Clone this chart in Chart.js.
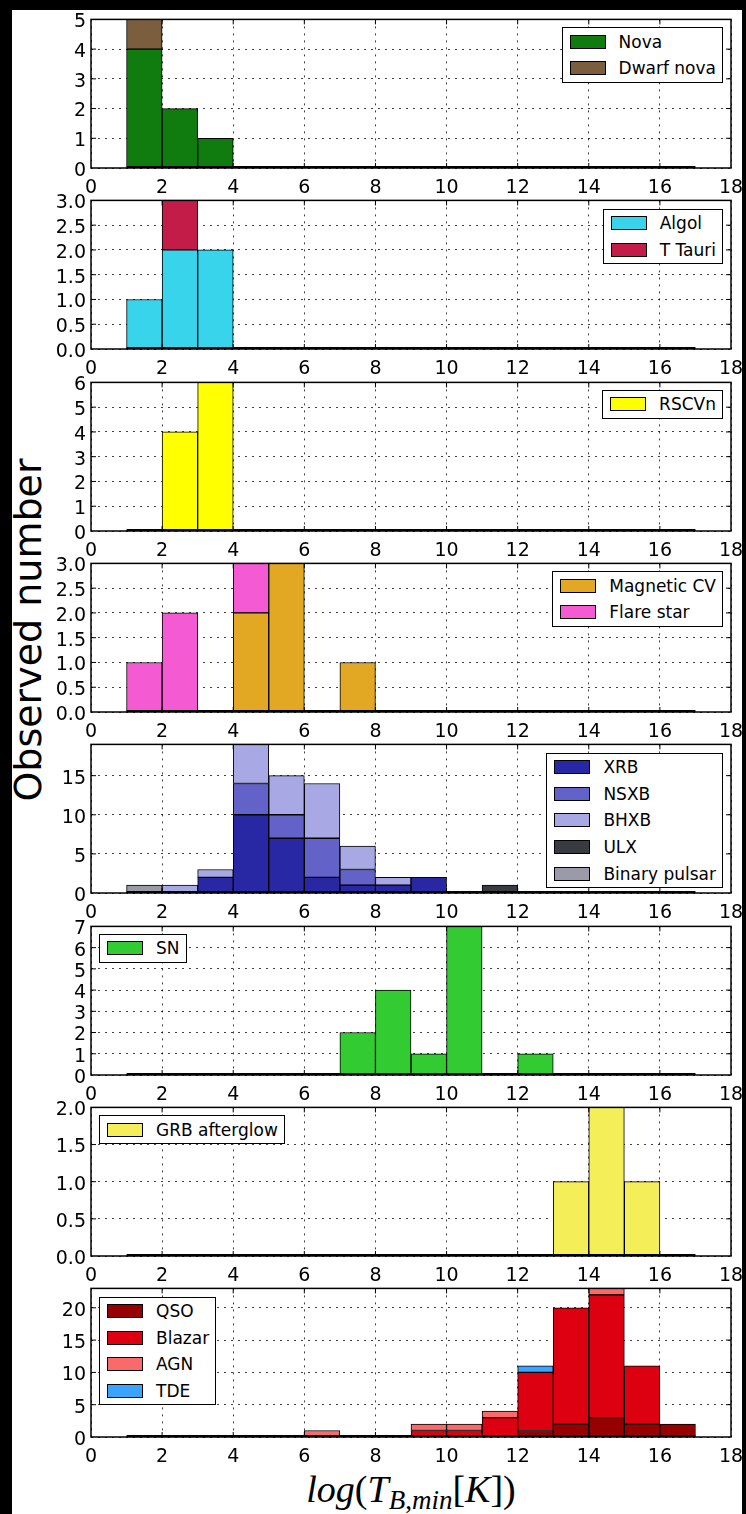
<!DOCTYPE html>
<html>
<head>
<meta charset="utf-8">
<script src="https://cdn.jsdelivr.net/npm/chart.js@4/dist/chart.umd.min.js"></script>
<style>
  html, body { margin: 0; padding: 0; background: #000; }
  body { width: 746px; height: 1514px; overflow: hidden; }
  #fig { position: absolute; left: 12px; top: 10px; width: 730px; height: 1504px; background: #fff; overflow: hidden; }
  #fig canvas { position: absolute; left: 0; }
  .lg { position: absolute; background: #fff; border: 1.5px solid #000; padding: 0 6px 0 7px; font: 17px 'DejaVu Sans'; color: #000; }
  .lg .row { height: 26.7px; display: flex; align-items: center; white-space: nowrap; }
  .lg .sw { width: 36px; height: 14px; border: 1.5px solid #000; box-sizing: border-box; margin-right: 13px; flex: none; }
  #ylab { position: absolute; left: -187.5px; top: 601px; width: 400px; height: 38px; line-height: 38px; text-align: center;
          font: 38px 'DejaVu Sans'; color: #000; transform: rotate(-90deg); white-space: nowrap; }
  #xlab { position: absolute; left: 199px; top: 1457px; width: 400px; height: 38px; line-height: 38px; text-align: center;
          font: italic 38px 'Liberation Serif'; color: #000; white-space: nowrap; }
  #xlab .up { font-style: normal; }
  #xlab .sub { font-size: 27px; vertical-align: -7px; }
</style>
</head>
<body>
<div id="fig">
  <div id="ylab">Observed number</div>
  <div id="xlab">log<span class="up">(</span>T<span class="sub">B<span class="up">,</span>min</span><span class="up">[</span>K<span class="up">])</span></div>
</div>
<script>
// histogram bins: left edges, each bin is 1 wide
const binStarts = [1, 2, 3, 4, 5, 6, 7, 8, 9, 10, 11, 12, 13, 14, 15, 16];
const xTickValues = [0, 2, 4, 6, 8, 10, 12, 14, 16, 18];

// counts per bin (index 0 = bin 1-2)
const novaCounts      = [4, 2, 1, 0, 0, 0, 0, 0, 0, 0, 0, 0, 0, 0, 0, 0];
const dwarfNovaCounts = [1, 0, 0, 0, 0, 0, 0, 0, 0, 0, 0, 0, 0, 0, 0, 0];

const algolCounts  = [1, 2, 2, 0, 0, 0, 0, 0, 0, 0, 0, 0, 0, 0, 0, 0];
const tTauriCounts = [0, 1, 0, 0, 0, 0, 0, 0, 0, 0, 0, 0, 0, 0, 0, 0];

const rscvnCounts = [0, 4, 6, 0, 0, 0, 0, 0, 0, 0, 0, 0, 0, 0, 0, 0];

const magneticCVCounts = [0, 0, 0, 2, 3, 0, 1, 0, 0, 0, 0, 0, 0, 0, 0, 0];
const flareStarCounts  = [1, 2, 0, 1, 0, 0, 0, 0, 0, 0, 0, 0, 0, 0, 0, 0];

const xrbCounts          = [0, 0, 2, 10, 7, 2, 1, 1, 2, 0, 0, 0, 0, 0, 0, 0];
const nsxbCounts         = [0, 0, 0, 4, 3, 5, 2, 0, 0, 0, 0, 0, 0, 0, 0, 0];
const bhxbCounts         = [0, 1, 1, 5, 5, 7, 3, 1, 0, 0, 0, 0, 0, 0, 0, 0];
const ulxCounts          = [0, 0, 0, 0, 0, 0, 0, 0, 0, 0, 1, 0, 0, 0, 0, 0];
const binaryPulsarCounts = [1, 0, 0, 0, 0, 0, 0, 0, 0, 0, 0, 0, 0, 0, 0, 0];

const snCounts = [0, 0, 0, 0, 0, 0, 2, 4, 1, 7, 0, 1, 0, 0, 0, 0];

const grbCounts = [0, 0, 0, 0, 0, 0, 0, 0, 0, 0, 0, 0, 1, 2, 1, 0];

const qsoCounts    = [0, 0, 0, 0, 0, 0, 0, 0, 0, 0, 0, 1, 2, 3, 2, 2];
const blazarCounts = [0, 0, 0, 0, 0, 0, 0, 0, 1, 1, 3, 9, 18, 19, 9, 0];
const agnCounts    = [0, 0, 0, 0, 0, 1, 0, 0, 1, 1, 1, 0, 0, 1, 0, 0];
const tdeCounts    = [0, 0, 0, 0, 0, 0, 0, 0, 0, 0, 0, 1, 0, 0, 0, 0];

// y ticks of each panel
const yTicks1 = [0, 1, 2, 3, 4, 5];
const yTicks2 = [0, 0.5, 1, 1.5, 2, 2.5, 3];
const yTicks3 = [0, 1, 2, 3, 4, 5, 6];
const yTicks4 = [0, 0.5, 1, 1.5, 2, 2.5, 3];
const yTicks5 = [0, 5, 10, 15];
const yTicks6 = [0, 1, 2, 3, 4, 5, 6, 7];
const yTicks7 = [0, 0.5, 1, 1.5, 2];
const yTicks8 = [0, 5, 10, 15, 20];
const yMaxes = [5, 3, 6, 3, 19, 7, 2, 23];

const panels = [
  { ticks: yTicks1, legend: 'right', series: [['Nova', novaCounts, '#107c10'], ['Dwarf nova', dwarfNovaCounts, '#7a5e3e']] },
  { ticks: yTicks2, legend: 'right', series: [['Algol', algolCounts, '#38d4ec'], ['T Tauri', tTauriCounts, '#c41c48']] },
  { ticks: yTicks3, legend: 'right', series: [['RSCVn', rscvnCounts, '#ffff00']] },
  { ticks: yTicks4, legend: 'right', series: [['Magnetic CV', magneticCVCounts, '#e2a824'], ['Flare star', flareStarCounts, '#f45ad2']] },
  { ticks: yTicks5, legend: 'right', series: [['XRB', xrbCounts, '#2828a4'], ['NSXB', nsxbCounts, '#6262c8'], ['BHXB', bhxbCounts, '#a8a8e4'], ['ULX', ulxCounts, '#383c40'], ['Binary pulsar', binaryPulsarCounts, '#9a9aa8']] },
  { ticks: yTicks6, legend: 'left', series: [['SN', snCounts, '#32cc32']] },
  { ticks: yTicks7, legend: 'left', series: [['GRB afterglow', grbCounts, '#f4ee58']] },
  { ticks: yTicks8, legend: 'left', series: [['QSO', qsoCounts, '#960000'], ['Blazar', blazarCounts, '#dc0010'], ['AGN', agnCounts, '#fa6a6a'], ['TDE', tdeCounts, '#3aa4ff']] }
];

Chart.defaults.font.family = 'DejaVu Sans';
Chart.defaults.color = '#000';

// axes frame with inward ticks on all four sides, plus the edge of the empty bins along y=0
const framePlugin = {
  id: 'frame',
  afterDraw(chart) {
    const { ctx, chartArea: a, scales: { x, y } } = chart;
    ctx.save();
    ctx.strokeStyle = '#000';
    ctx.lineWidth = 2;
    ctx.beginPath();
    ctx.moveTo(x.getPixelForValue(binStarts[0]), a.bottom - 1);
    ctx.lineTo(x.getPixelForValue(binStarts[binStarts.length - 1] + 1), a.bottom - 1);
    ctx.stroke();

    ctx.lineWidth = 1;
    ctx.beginPath();
    x.ticks.forEach(t => {
      const px = x.getPixelForValue(t.value);
      if (px < a.left + 2 || px > a.right - 2) return;
      ctx.moveTo(px, a.bottom); ctx.lineTo(px, a.bottom - 5);
      ctx.moveTo(px, a.top); ctx.lineTo(px, a.top + 5);
    });
    y.ticks.forEach(t => {
      const py = y.getPixelForValue(t.value);
      if (py < a.top + 2 || py > a.bottom - 2) return;
      ctx.moveTo(a.left, py); ctx.lineTo(a.left + 5, py);
      ctx.moveTo(a.right, py); ctx.lineTo(a.right - 5, py);
    });
    ctx.stroke();
    ctx.lineWidth = 1.5;
    ctx.strokeRect(a.left, a.top, a.right - a.left, a.bottom - a.top);
    ctx.restore();
  }
};

const fig = document.getElementById('fig');
const FIG_W = 730;

function addLegend(chart, side, top) {
  const a = chart.chartArea;
  const box = document.createElement('div');
  box.className = 'lg';
  chart.data.datasets.forEach(ds => {
    const row = document.createElement('div');
    row.className = 'row';
    const sw = document.createElement('span');
    sw.className = 'sw';
    sw.style.background = ds.backgroundColor;
    const tx = document.createElement('span');
    tx.textContent = ds.label;
    row.appendChild(sw);
    row.appendChild(tx);
    box.appendChild(row);
  });
  box.style.top = (top + a.top + 8) + 'px';
  if (side === 'right') box.style.right = (FIG_W - a.right + 8) + 'px';
  else box.style.left = (a.left + 8) + 'px';
  fig.appendChild(box);
}

panels.forEach((p, i) => {
  const frameTop = 17 + 181.3 * i;          // page coords of plot frame top
  const canvasTop = frameTop - 14 - 10;     // inside #fig
  const cv = document.createElement('canvas');
  cv.width = 750; cv.height = 197;
  cv.style.width = '750px'; cv.style.height = '197px';
  cv.style.top = canvasTop + 'px';
  fig.appendChild(cv);

  const decimals = p.ticks.some(v => v % 1 !== 0) ? 1 : 0;

  const chart = new Chart(cv, {
    type: 'bar',
    data: {
      datasets: p.series.map(([label, counts, color]) => ({
        label,
        data: binStarts.map((b, k) => ({ x: b + 0.5, y: counts[k] })),
        backgroundColor: color,
        borderColor: '#000',
        borderWidth: 1,
        borderSkipped: false,
        barPercentage: 1,
        categoryPercentage: 1
      }))
    },
    options: {
      responsive: false,
      animation: false,
      devicePixelRatio: 1,
      layout: { padding: { top: 14, right: 31, bottom: 0, left: 0 } },
      plugins: { legend: { display: false }, tooltip: { enabled: false } },
      scales: {
        x: {
          type: 'linear', min: 0, max: 18, offset: false, stacked: true, z: 1,
          afterBuildTicks: s => { s.ticks = xTickValues.map(v => ({ value: v })); },
          afterFit: s => { s.height = 32; },
          grid: { offset: false, drawTicks: false, color: 'rgba(0,0,0,0.75)', lineWidth: 1 },
          border: { display: false, dash: [2, 5] },
          ticks: { padding: 9, font: { size: 19 }, maxRotation: 0, autoSkip: false }
        },
        y: {
          min: 0, max: yMaxes[i], stacked: true, z: 1,
          afterBuildTicks: s => { s.ticks = p.ticks.map(v => ({ value: v })); },
          afterFit: s => { s.width = 79; },
          grid: { drawTicks: false, color: 'rgba(0,0,0,0.75)', lineWidth: 1 },
          border: { display: false, dash: [2, 5] },
          ticks: { padding: 5, labelOffset: 3, autoSkip: false, font: { size: 19 }, callback: v => v.toFixed(decimals) }
        }
      }
    },
    plugins: [framePlugin]
  });

  addLegend(chart, p.legend, canvasTop);
});
</script>
</body>
</html>
